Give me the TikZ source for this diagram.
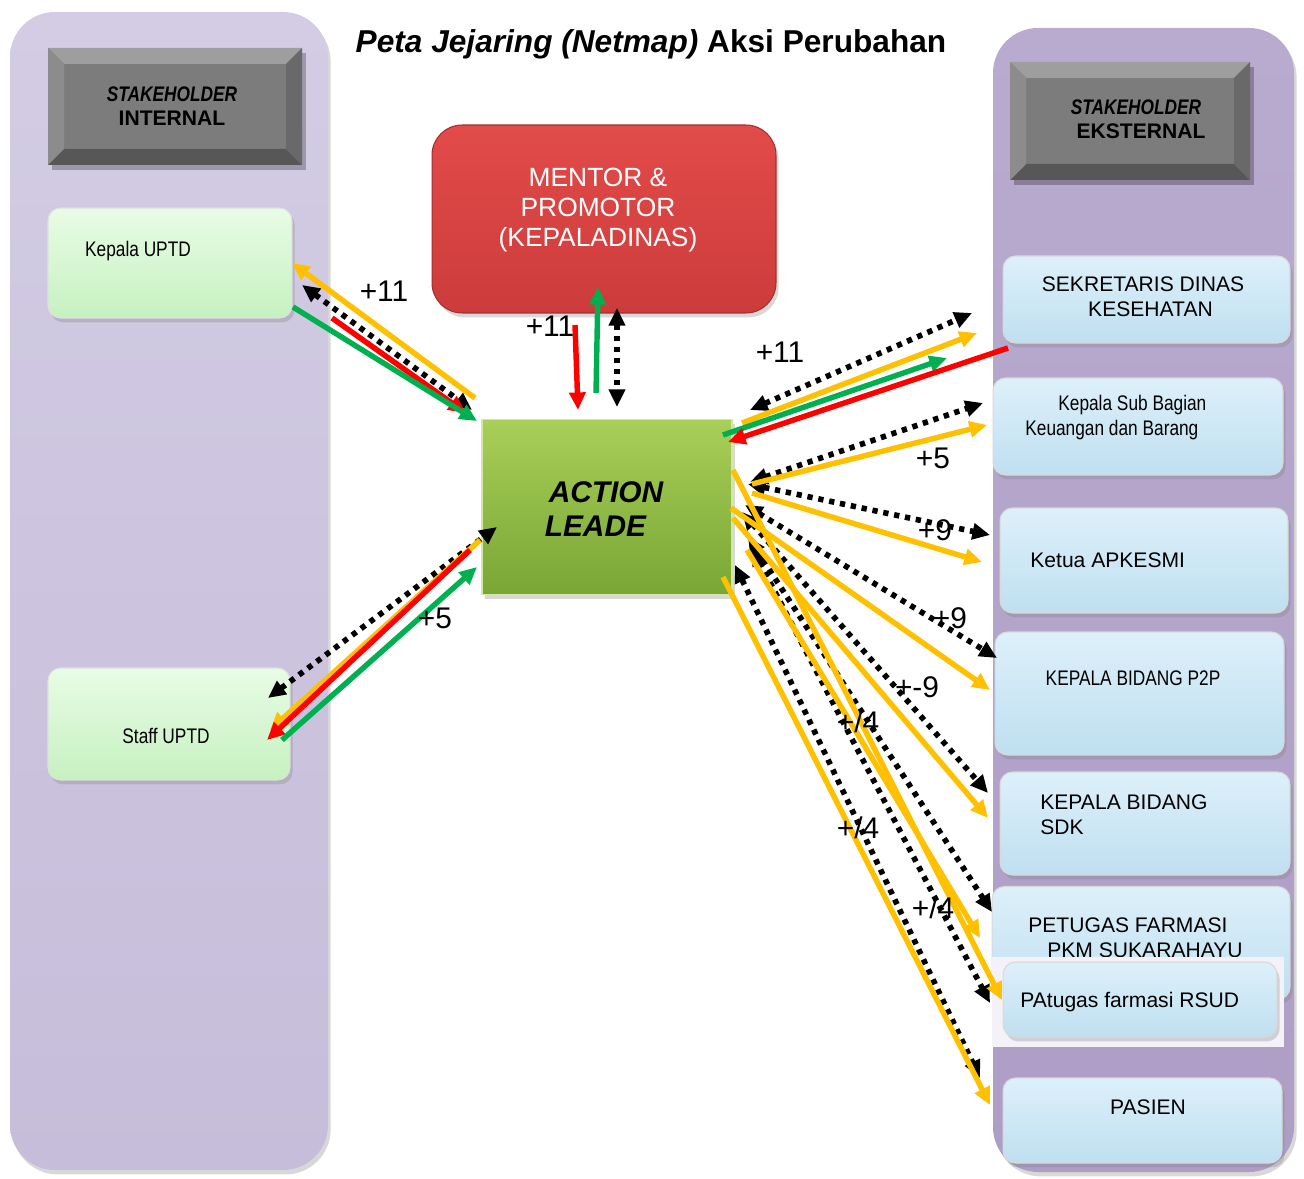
\documentclass[tikz,border=0pt]{standalone}
\usepackage{fontspec}
\setmainfont{Liberation Sans}
\newfontfamily\narrowfont[FakeStretch=0.82]{Liberation Sans}
\usetikzlibrary{arrows.meta,shadows}

\definecolor{lavL}{HTML}{C6BDDA}
\definecolor{lavLtop}{HTML}{D3CCE4}
\definecolor{lavR}{HTML}{AE9EC6}
\definecolor{lavRtop}{HTML}{B9AACF}
\definecolor{gboxA}{HTML}{E8FCE5}
\definecolor{gboxB}{HTML}{C6F1C0}
\definecolor{bboxA}{HTML}{DDF0FA}
\definecolor{bboxB}{HTML}{BFDFF0}
\definecolor{arrO}{HTML}{FFC000}
\definecolor{arrG}{HTML}{00B050}
\definecolor{arrR}{HTML}{FF0000}
\definecolor{mredA}{HTML}{E24B49}
\definecolor{mredB}{HTML}{CC3C3B}
\definecolor{alA}{HTML}{A8CF58}
\definecolor{alB}{HTML}{79A636}
\definecolor{hdrMid}{HTML}{7C7C7C}
\definecolor{hdrTop}{HTML}{9E9E9E}
\definecolor{hdrLeft}{HTML}{8C8C8C}
\definecolor{hdrBot}{HTML}{575757}
\definecolor{hdrRight}{HTML}{696969}
\definecolor{backing}{HTML}{F4F2F8}

\newcommand\hdrbevel[4]{%
  \fill[black,opacity=0.25] (#1+4,#2+5) rectangle (#3+4,#4+5);
  \fill[hdrMid] (#1,#2) rectangle (#3,#4);
  \fill[hdrTop] (#1,#2) -- (#3,#2) -- (#3-16,#2+16) -- (#1+16,#2+16) -- cycle;
  \fill[hdrBot] (#1,#4) -- (#3,#4) -- (#3-16,#4-16) -- (#1+16,#4-16) -- cycle;
  \fill[hdrLeft] (#1,#2) -- (#1+16,#2+16) -- (#1+16,#4-16) -- (#1,#4) -- cycle;
  \fill[hdrRight] (#3,#2) -- (#3-16,#2+16) -- (#3-16,#4-16) -- (#3,#4) -- cycle;
}

\tikzset{
  panel/.style={rounded corners=0.9cm},
  softshadow/.style={drop shadow={opacity=0.3,shadow xshift=1.5pt,shadow yshift=-2.5pt}},
  gbox/.style={rectangle, rounded corners=0.25cm, top color=gboxA, bottom color=gboxB,
     draw=white!75!gray, line width=0.6pt, softshadow},
  bbox/.style={rectangle, rounded corners=0.25cm, top color=bboxA, bottom color=bboxB,
     draw=white!70!gray, line width=0.6pt, softshadow},
  mentorbox/.style={rectangle, rounded corners=0.6cm, top color=mredA, bottom color=mredB,
     draw=mredB!80!black, line width=0.6pt, softshadow},
  actionbox/.style={rectangle, top color=alA, bottom color=alB, draw=alA!50!white,
     line width=1pt, softshadow},
  boxtext/.style={inner sep=0pt, font=\fontsize{12}{14.2}\selectfont},
  narrowtext/.style={inner sep=0pt, font=\narrowfont\fontsize{12}{14.2}\selectfont},
  hdrtext/.style={inner sep=0pt, align=center, font=\fontsize{12}{13.6}\selectfont},
  lbl/.style={inner sep=0pt, font=\fontsize{17}{20}\selectfont},
  tipA/.tip={Triangle[length=10pt,width=9pt]},
  oarr/.style={draw=arrO, line width=3.1pt, -tipA},
  garr/.style={draw=arrG, line width=3.1pt, -tipA},
  rarr/.style={draw=arrR, line width=3.1pt, -tipA},
  darr/.style={draw=black, line width=3.2pt, dash pattern=on 3pt off 3.3pt, tipA-tipA},
}

\begin{document}
\begin{tikzpicture}[x=0.02cm,y=-0.02cm]
\useasboundingbox[fill=white] (0,0) rectangle (1304,1179);

% ---------- panels ----------
\path[panel, top color=lavLtop, bottom color=lavL, softshadow] (10,12) rectangle (328,1170);
\path[panel, top color=lavRtop, bottom color=lavR, softshadow] (993,28) rectangle (1294,1172);

% ---------- headers ----------
\hdrbevel{48}{48}{302}{165}
\node[hdrtext] (hdrL) at (172,106) {{\narrowfont\bfseries\itshape STAKEHOLDER}\\\textbf{INTERNAL}};
\hdrbevel{1010}{62}{1250}{180}
\node[hdrtext] (hdrR) at (1136,119) {{\narrowfont\bfseries\itshape STAKEHOLDER}\\\hspace*{0.2cm}\textbf{EKSTERNAL}};

% ---------- title ----------
\node[inner sep=0pt, font=\bfseries\fontsize{18}{22}\selectfont] (title) at (651,44)
  {\itshape Peta Jejaring (Netmap)\upshape{} Aksi Perubahan};

% ---------- internal boxes ----------
\node[gbox, minimum width=4.88cm, minimum height=2.2cm] (kepala) at (170,263) {};
\node[narrowtext] (kepalaT) at (138,251) {Kepala UPTD};
\node[gbox, minimum width=4.84cm, minimum height=2.24cm] (staff) at (169,724) {};
\node[narrowtext] (staffT) at (166,736) {Staff UPTD};

% ---------- mentor & action ----------
\node[mentorbox, minimum width=6.88cm, minimum height=3.76cm] (mentor) at (604,219) {};
\node[inner sep=0pt, align=center, text=white, font=\fontsize{15}{17}\selectfont] (mentorT) at (598,210)
  {MENTOR \&\\PROMOTOR\\(KEPALADINAS)};
\node[actionbox, minimum width=5cm, minimum height=3.5cm] (action) at (607,507) {};
\node[inner sep=0pt, align=left, font=\bfseries\itshape\fontsize{17}{19.3}\selectfont] (actionT) at (604,509)
  {\hspace*{0.08cm}ACTION\\LEADE};

% ---------- external boxes ----------
\node[bbox, minimum width=5.74cm, minimum height=1.74cm] (sek) at (1146.5,299.5) {};
\node[boxtext, align=center] (sekT) at (1143,297) {SEKRETARIS DINAS\\\hspace*{0.3cm}KESEHATAN};
\node[bbox, minimum width=5.8cm, minimum height=1.94cm] (ksb) at (1138,426.5) {};
\node[narrowtext, align=left, anchor=west] (ksbT) at (1025,418) {\hspace*{0.66cm}Kepala Sub Bagian\\Keuangan dan Barang};
\node[bbox, minimum width=5.76cm, minimum height=2.1cm] (apk) at (1144,560.5) {};
\node[boxtext, anchor=west] (apkT) at (1030,560) {Ketua APKESMI};
\node[bbox, minimum width=5.78cm, minimum height=2.46cm] (ptp) at (1139.5,693.5) {};
\node[narrowtext] (ptpT) at (1133,678) {KEPALA BIDANG P2P};
\node[bbox, minimum width=5.8cm, minimum height=2.06cm] (sdk) at (1145,823.5) {};
\node[boxtext, align=left, anchor=west] (sdkT) at (1040,815) {KEPALA BIDANG\\SDK};
\node[bbox, minimum width=5.96cm, minimum height=2.26cm] (pkm) at (1141,943) {};
\node[boxtext, align=left, anchor=west] (pkmT) at (1028,938) {PETUGAS FARMASI\\\hspace*{0.38cm}PKM SUKARAHAYU};
\fill[backing] (992,957) rectangle (1284,1047);
\node[bbox, minimum width=5.48cm, minimum height=1.5cm] (rsud) at (1140,999.5) {};
\node[boxtext, anchor=west] (rsudT) at (1020,1002) {PAtugas farmasi RSUD};
\node[bbox, minimum width=5.58cm, minimum height=1.7cm] (pasien) at (1142.5,1120.5) {};
\node[boxtext] (pasienT) at (1148,1107) {PASIEN};

% ---------- connector end points ----------
% Kepala UPTD <-> Action
\coordinate (kO1) at (475,398); \coordinate (kO2) at (292,263);
\coordinate (kD1) at (302,285); \coordinate (kD2) at (472,410);
\coordinate (kR1) at (332,318); \coordinate (kR2) at (466,413);
\coordinate (kG1) at (293,307); \coordinate (kG2) at (477,421);
% Mentor <-> Action
\coordinate (mR1) at (575,325); \coordinate (mR2) at (578,410);
\coordinate (mG1) at (596,393); \coordinate (mG2) at (598,287);
\coordinate (mD1) at (617,308); \coordinate (mD2) at (617,407);
% Sekretaris
\coordinate (sD1) at (750,410); \coordinate (sD2) at (972,313);
\coordinate (sO1) at (742,423); \coordinate (sO2) at (977,333);
\coordinate (sG1) at (723,435); \coordinate (sG2) at (947,358);
\coordinate (sR1) at (1008,348); \coordinate (sR2) at (728,442);
% Kasubag
\coordinate (bD1) at (750,482); \coordinate (bD2) at (983,403);
\coordinate (bO1) at (752,484); \coordinate (bO2) at (987,425);
% APKESMI
\coordinate (aD1) at (748,484); \coordinate (aD2) at (990,535);
\coordinate (aO1) at (752,493); \coordinate (aO2) at (982,562);
% P2P
\coordinate (pD1) at (745,505); \coordinate (pD2) at (997,658);
\coordinate (pO1) at (731,508); \coordinate (pO2) at (990,690);
% SDK
\coordinate (dD1) at (742,512); \coordinate (dD2) at (988,793);
\coordinate (dO1) at (733,518); \coordinate (dO2) at (988,818);
% PKM
\coordinate (fD1) at (748,537); \coordinate (fD2) at (992,912);
\coordinate (fO1) at (747,550); \coordinate (fO2) at (980,938);
% RSUD
\coordinate (rD1) at (752,548); \coordinate (rD2) at (990,1003);
\coordinate (rO1) at (733,470); \coordinate (rO2) at (1002,1000);
% PASIEN
\coordinate (qD1) at (735,565); \coordinate (qD2) at (980,1078);
\coordinate (qO1) at (723,577); \coordinate (qO2) at (990,1105);
% Staff
\coordinate (tD1) at (268,698); \coordinate (tD2) at (497,527);
\coordinate (tO1) at (480,540); \coordinate (tO2) at (270,730);
\coordinate (tR1) at (470,550); \coordinate (tR2) at (267,740);
\coordinate (tG1) at (282,740); \coordinate (tG2) at (477,567);

% ---------- connectors ----------
% Kepala UPTD
\draw[oarr] (kO1) -- (kO2);
\draw[darr] (kD1) -- (kD2);
\draw[rarr] (kR1) -- (kR2);
\draw[garr] (kG1) -- (kG2);
% Mentor
\draw[rarr] (mR1) -- (mR2);
\draw[garr] (mG1) -- (mG2);
\draw[darr] (mD1) -- (mD2);
% external, dotted first
\draw[darr] (sD1) -- (sD2);
\draw[darr] (bD1) -- (bD2);
\draw[darr] (aD1) -- (aD2);
\draw[darr] (pD1) -- (pD2);
\draw[darr] (dD1) -- (dD2);
\draw[darr] (fD1) -- (fD2);
\draw[darr] (rD1) -- (rD2);
\draw[darr] (qD1) -- (qD2);
\draw[oarr] (sO1) -- (sO2);
\draw[oarr] (bO1) -- (bO2);
\draw[oarr] (aO1) -- (aO2);
\draw[oarr] (pO1) -- (pO2);
\draw[oarr] (dO1) -- (dO2);
\draw[oarr] (fO1) -- (fO2);
\draw[oarr] (rO1) -- (rO2);
\draw[oarr] (qO1) -- (qO2);
\draw[garr] (sG1) -- (sG2);
\draw[rarr] (sR1) -- (sR2);
% Staff
\draw[darr] (tD1) -- (tD2);
\draw[oarr] (tO1) -- (tO2);
\draw[rarr] (tR1) -- (tR2);
\draw[garr] (tG1) -- (tG2);

% ---------- labels ----------
\node[lbl] (l1) at (384,291) {+11};
\node[lbl] (l2) at (550,326) {+11};
\node[lbl] (l3) at (780,352) {+11};
\node[lbl] (l4) at (933,458) {+5};
\node[lbl] (l5) at (935,530) {+9};
\node[lbl] (l6) at (950,618) {+9};
\node[lbl] (l7) at (917,687) {+-9};
\node[lbl] (l8) at (858,722) {+/4};
\node[lbl] (l9) at (858,828) {+/4};
\node[lbl] (l10) at (933,908) {+/4};
\node[lbl] (l11) at (435,618) {+5};
\end{tikzpicture}
\end{document}
